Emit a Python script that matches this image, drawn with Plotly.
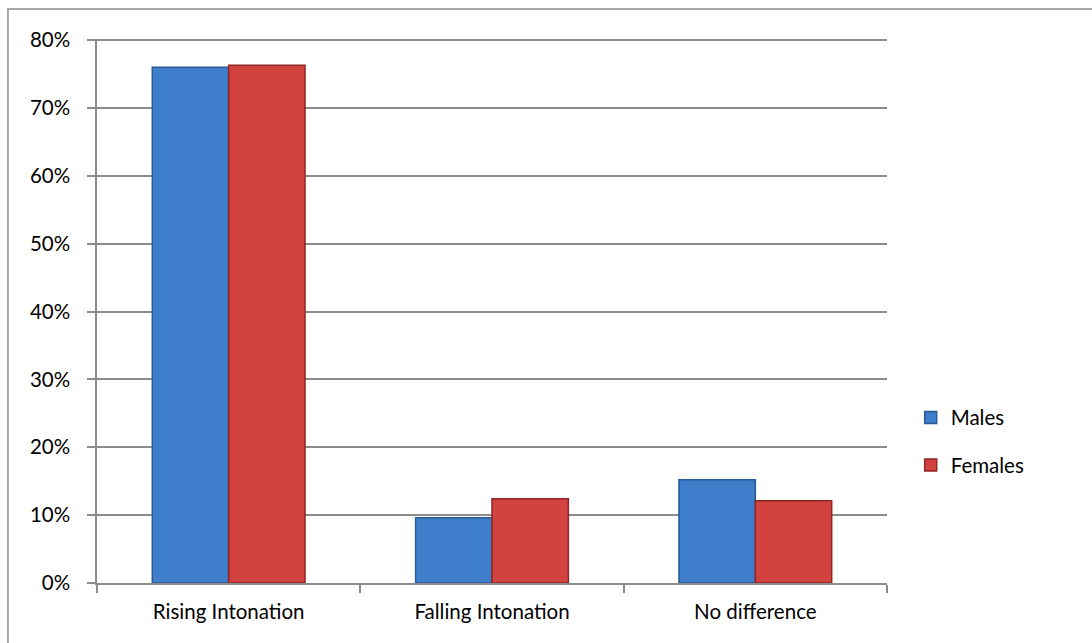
import plotly.graph_objects as go

categories = ["Rising Intonation", "Falling Intonation", "No difference"]
males = [0.760, 0.096, 0.152]
females = [0.763, 0.124, 0.121]
y_ticks = [0, 0.1, 0.2, 0.3, 0.4, 0.5, 0.6, 0.7, 0.8]

FONT = "Lato"

fig = go.Figure()
fig.add_trace(go.Bar(
    name="Males", x=categories, y=males, legendgroup="m",
    marker=dict(color="#3E7ECB", line=dict(color="#2A5A96", width=1.5)),
))
fig.add_trace(go.Bar(
    name="Females", x=categories, y=females, legendgroup="f",
    marker=dict(color="#D2433F", line=dict(color="#8E2624", width=1.5)),
))

fig.update_layout(
    width=1092, height=643,
    margin=dict(l=97, r=205, t=39, b=60),
    paper_bgcolor="white", plot_bgcolor="white",
    barmode="group", bargap=0.42, bargroupgap=0,
    font=dict(family=FONT, size=20.5, color="black"),
    showlegend=True,
    legend=dict(x=1.03, y=0.26, xanchor="left", yanchor="middle",
                traceorder="grouped", tracegroupgap=18,
                font=dict(family=FONT, size=20.5, color="black")),
    xaxis=dict(showline=True, linecolor="#8C8C8C", linewidth=1.5,
               ticks="outside", tickson="boundaries", ticklen=8,
               tickcolor="#8C8C8C", tickwidth=1.5, showgrid=False,
               ticklabelstandoff=10),
    yaxis=dict(range=[0, 0.8015], tickvals=y_ticks, tickformat=".0%",
               showline=True, linecolor="#8C8C8C", linewidth=1.5,
               ticks="outside", ticklen=8, tickcolor="#8C8C8C", tickwidth=1.5,
               gridcolor="#8C8C8C", gridwidth=1.5, zeroline=False,
               ticklabelstandoff=13),
    shapes=[dict(type="rect", xref="paper", yref="paper",
                 x0=-0.1127, y0=-0.3, x1=1.4, y1=1.0552,
                 line=dict(color="#8C8C8C", width=1.5), layer="below")],
)

fig.write_html("out.html")
